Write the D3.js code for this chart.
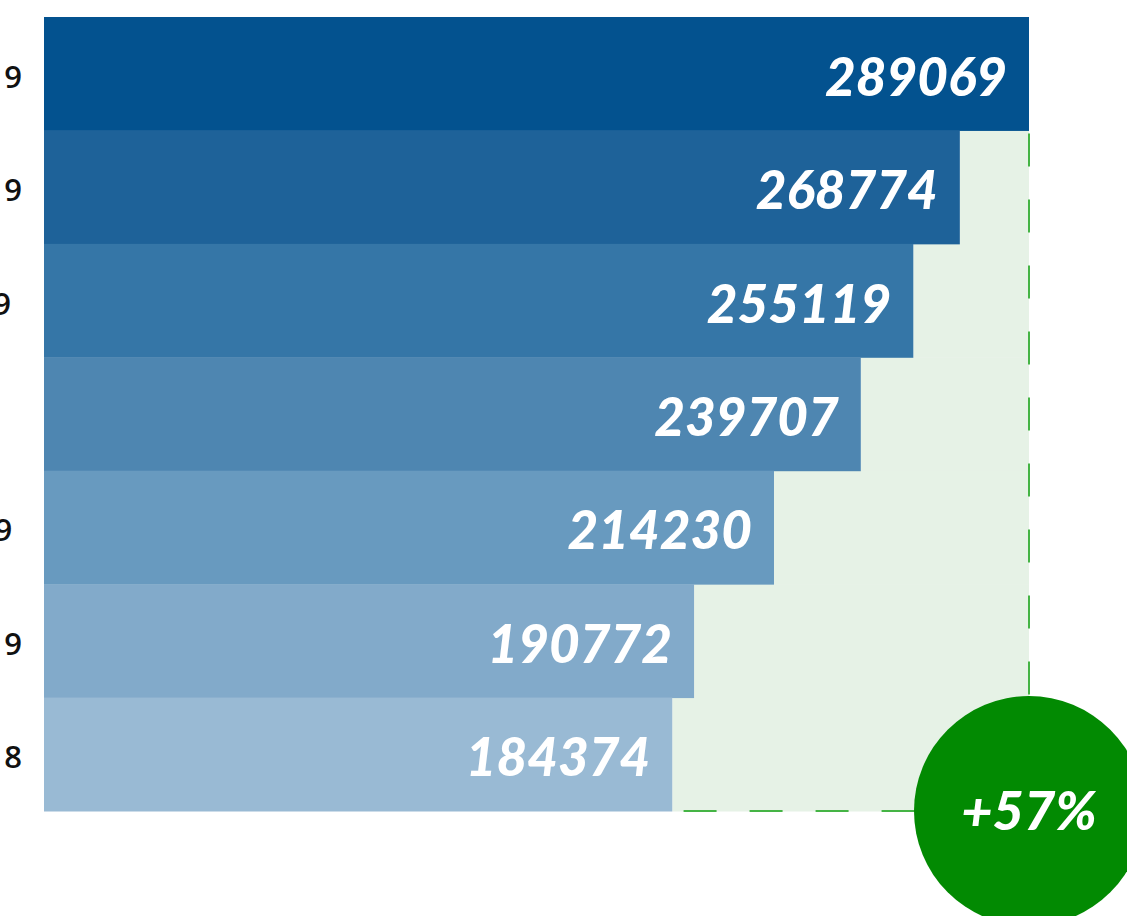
<!DOCTYPE html>
<html>
<head>
<meta charset="utf-8">
<script src="https://cdn.jsdelivr.net/npm/d3@7"></script>
<style>
  body { margin: 0; background: #fff; }
  svg { display: block; }
</style>
</head>
<body>
<div id="chart"></div>
<script>
// chart data, top bar first
var labels = ["4. Quartal 2019", "3. Quartal 2019", "Sommer 2019", "Juni 2019", "Frühjahr 2019", "1. Quartal 2019", "4. Quartal 2018"];
var values = [289069, 268774, 255119, 239707, 214230, 190772, 184374];
var colors = ["#03528f", "#1e6299", "#3576a7", "#4e86b1", "#689abf", "#82aaca", "#99bad4"];
var growth = "+57%";

var svgWidth = 1127;
var svgHeight = 916;
var margin = { top: 17, left: 44 };
var width = 985;
var height = 794;

var svg = d3.select("#chart")
    .append("svg")
    .attr("width", svgWidth)
    .attr("height", svgHeight);

var chartGroup = svg.append("g")
    .attr("transform", `translate(${margin.left}, ${margin.top})`);

var xScale = d3.scaleLinear()
    .domain([0, d3.max(values)])
    .range([0, width]);

var yScale = d3.scaleBand()
    .domain(labels)
    .range([0, height])
    .padding(0);

var maxX = xScale(d3.max(values));

// light green area showing the gap to the top value
chartGroup.selectAll(".gap")
    .data(labels.slice(1))
    .enter()
    .append("rect")
    .attr("class", "gap")
    .attr("x", (d, i) => xScale(values[i + 1]))
    .attr("y", d => yScale(d))
    .attr("width", (d, i) => maxX - xScale(values[i + 1]))
    .attr("height", yScale.bandwidth() + 0.5)
    .attr("fill", "#e6f2e6");

// dashed border on right and bottom
chartGroup.append("path")
    .attr("d", `M${maxX},${yScale(labels[1])}V${height}H${xScale(values[values.length - 1])}`)
    .attr("fill", "none")
    .attr("stroke", "#45b445")
    .attr("stroke-width", 2)
    .attr("stroke-dasharray", "33,33")
    .attr("stroke-dashoffset", -3);

// bars
chartGroup.selectAll(".bar")
    .data(values)
    .enter()
    .append("rect")
    .attr("class", "bar")
    .attr("x", 0)
    .attr("y", (d, i) => yScale(labels[i]))
    .attr("width", d => xScale(d))
    .attr("height", yScale.bandwidth() + 0.5)
    .attr("fill", (d, i) => colors[i]);

// value labels inside bars
chartGroup.selectAll(".valueText")
    .data(values)
    .enter()
    .append("text")
    .attr("class", "valueText")
    .attr("x", d => xScale(d) - 22)
    .attr("y", (d, i) => yScale(labels[i]) + yScale.bandwidth() / 2 + 22)
    .attr("text-anchor", "end")
    .attr("fill", "#fff")
    .style("font-family", "Lato, 'Open Sans', sans-serif")
    .style("font-weight", "900")
    .style("font-style", "italic")
    .style("font-size", "53px")
    .text(d => d);

// category labels, mostly cut off by the left edge
var labelText = chartGroup.selectAll(".labelText")
    .data(labels)
    .enter()
    .append("text")
    .attr("class", "labelText")
    .attr("y", d => yScale(d) + yScale.bandwidth() / 2 + 14)
    .attr("text-anchor", "middle")
    .attr("fill", "#111")
    .style("font-family", "'Open Sans', sans-serif")
    .style("font-weight", "600")
    .style("font-size", "31px")
    .text(d => d);

// centre the labels so the top one ends just inside the page
var firstWidth = labelText.node().getComputedTextLength();
labelText.attr("x", 22 - margin.left - firstWidth / 2);

// growth badge
var badge = chartGroup.append("g")
    .attr("transform", `translate(${maxX}, ${height})`);

badge.append("circle")
    .attr("r", 115)
    .attr("fill", "#028a02");

badge.append("text")
    .attr("x", 0)
    .attr("y", 19)
    .attr("text-anchor", "middle")
    .attr("fill", "#fff")
    .style("font-family", "Lato, 'Open Sans', sans-serif")
    .style("font-weight", "900")
    .style("font-style", "italic")
    .style("font-size", "54px")
    .text(growth);
</script>
</body>
</html>
